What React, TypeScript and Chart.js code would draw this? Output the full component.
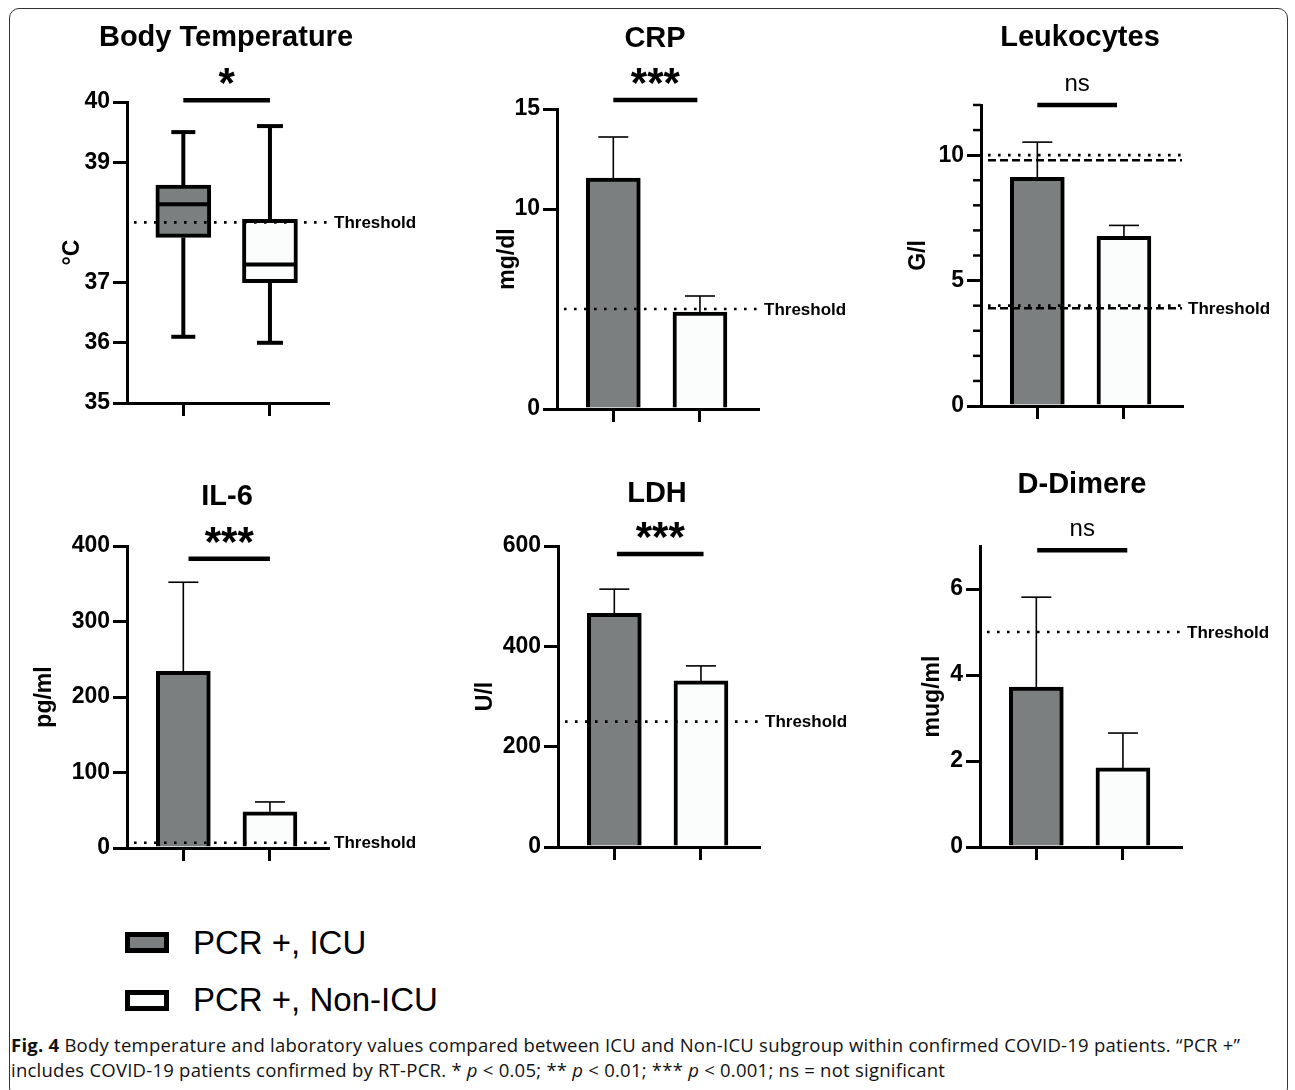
import React, { useEffect, useRef } from 'react';
import { Chart, registerables } from 'chart.js';

Chart.register(...registerables);

// ---------------- data ----------------
const GROUPS = ['PCR +, ICU', 'PCR +, Non-ICU'];
const GROUP_FILL = ['#7b7f7f', '#fbfdfd'];
const GROUP_X = [0, 1];

// Body temperature (box plot)
const TEMP_MIN = [36.1, 36.0];
const TEMP_Q1 = [37.75, 37.0];
const TEMP_MEDIAN = [38.3, 37.3];
const TEMP_Q3 = [38.62, 38.05];
const TEMP_MAX = [39.5, 39.6];
const TEMP_TICKS = [35, 36, 37, 39, 40];
const TEMP_THRESHOLDS = [38];

// CRP
const CRP_MEAN = [11.55, 4.85];
const CRP_UPPER = [13.6, 5.65];
const CRP_TICKS = [0, 10, 15];
const CRP_THRESHOLDS = [5];

// Leukocytes
const LEUK_MEAN = [9.12, 6.76];
const LEUK_UPPER = [10.52, 7.2];
const LEUK_TICKS = [0, 5, 10];
const LEUK_MINOR_TICKS = [1, 2, 3, 4, 6, 7, 8, 9, 11, 12];
const LEUK_THRESHOLDS = [10, 9.8, 4.0, 3.9];

// IL-6
const IL6_MEAN = [234, 48];
const IL6_UPPER = [352, 61];
const IL6_TICKS = [0, 100, 200, 300, 400];
const IL6_THRESHOLDS = [7];

// LDH
const LDH_MEAN = [466, 331];
const LDH_UPPER = [514, 361];
const LDH_TICKS = [0, 200, 400, 600];
const LDH_THRESHOLDS = [250];

// D-Dimere
const DDIM_MEAN = [3.72, 1.84];
const DDIM_UPPER = [5.81, 2.65];
const DDIM_TICKS = [0, 2, 4, 6];
const DDIM_THRESHOLDS = [5];

// significance annotations
const SIG_LABELS = ['*', '***', 'ns', '***', '***', 'ns'];
const SIG_LEVELS = [40.03, 15.45, 12.0, 383, 584, 6.9];

// ---------------- layout ----------------
const FONT = '"Liberation Sans", Arial, Helvetica, sans-serif';
const L = 100; // room left of plot area
const T = 95; // room above plot area
const R = 110; // room right of plot area
const B = 30; // room below plot area
const W = 201; // plot area width
const X_MIN = -0.65;
const X_MAX = 1.67;

interface PanelSpec {
  title: string;
  yTitle: string;
  kind: 'box' | 'bar';
  mean?: number[];
  upper?: number[];
  box?: { min: number[]; q1: number[]; med: number[]; q3: number[]; max: number[] };
  yMin: number;
  yMax: number;
  ticks: number[];
  minor?: number[];
  thresholds: number[];
  thresholdDash: ('dot' | 'dash')[];
  thresholdLabel: boolean[];
  sig: string;
  sigLevel: number;
  sigX: [number, number];
  areaLeft: number;
  areaTop: number;
  areaBottom: number;
  titleX: number;
  titleY: number;
  yTitleX: number;
}

const PANELS: PanelSpec[] = [
  {
    title: 'Body Temperature', yTitle: '°C', kind: 'box',
    box: { min: TEMP_MIN, q1: TEMP_Q1, med: TEMP_MEDIAN, q3: TEMP_Q3, max: TEMP_MAX },
    yMin: 35, yMax: 40, ticks: TEMP_TICKS,
    thresholds: TEMP_THRESHOLDS, thresholdDash: ['dot'], thresholdLabel: [true],
    sig: SIG_LABELS[0], sigLevel: SIG_LEVELS[0], sigX: [0, 1],
    areaLeft: 127, areaTop: 102, areaBottom: 403, titleX: 226, titleY: 38, yTitleX: 73,
  },
  {
    title: 'CRP', yTitle: 'mg/dl', kind: 'bar', mean: CRP_MEAN, upper: CRP_UPPER,
    yMin: 0, yMax: 15, ticks: CRP_TICKS,
    thresholds: CRP_THRESHOLDS, thresholdDash: ['dot'], thresholdLabel: [true],
    sig: SIG_LABELS[1], sigLevel: SIG_LEVELS[1], sigX: [0, 0.97],
    areaLeft: 557, areaTop: 109, areaBottom: 409, titleX: 655, titleY: 39, yTitleX: 508,
  },
  {
    title: 'Leukocytes', yTitle: 'G/l', kind: 'bar', mean: LEUK_MEAN, upper: LEUK_UPPER,
    yMin: 0, yMax: 12, ticks: LEUK_TICKS, minor: LEUK_MINOR_TICKS,
    thresholds: LEUK_THRESHOLDS, thresholdDash: ['dot', 'dash', 'dot', 'dash'],
    thresholdLabel: [false, false, false, true],
    sig: SIG_LABELS[2], sigLevel: SIG_LEVELS[2], sigX: [0, 0.92],
    areaLeft: 981, areaTop: 105, areaBottom: 406, titleX: 1080, titleY: 38, yTitleX: 919,
  },
  {
    title: 'IL-6', yTitle: 'pg/ml', kind: 'bar', mean: IL6_MEAN, upper: IL6_UPPER,
    yMin: 0, yMax: 400, ticks: IL6_TICKS,
    thresholds: IL6_THRESHOLDS, thresholdDash: ['dot'], thresholdLabel: [true],
    sig: SIG_LABELS[3], sigLevel: SIG_LEVELS[3], sigX: [0.06, 1],
    areaLeft: 127, areaTop: 546, areaBottom: 848, titleX: 227, titleY: 497, yTitleX: 45,
  },
  {
    title: 'LDH', yTitle: 'U/l', kind: 'bar', mean: LDH_MEAN, upper: LDH_UPPER,
    yMin: 0, yMax: 600, ticks: LDH_TICKS,
    thresholds: LDH_THRESHOLDS, thresholdDash: ['dot'], thresholdLabel: [true],
    sig: SIG_LABELS[4], sigLevel: SIG_LEVELS[4], sigX: [0.03, 1.03],
    areaLeft: 558, areaTop: 546, areaBottom: 847, titleX: 657, titleY: 494, yTitleX: 486,
  },
  {
    title: 'D-Dimere', yTitle: 'mug/ml', kind: 'bar', mean: DDIM_MEAN, upper: DDIM_UPPER,
    yMin: 0, yMax: 7, ticks: DDIM_TICKS,
    thresholds: DDIM_THRESHOLDS, thresholdDash: ['dot'], thresholdLabel: [true],
    sig: SIG_LABELS[5], sigLevel: SIG_LEVELS[5], sigX: [0.01, 1.05],
    areaLeft: 980, areaTop: 546, areaBottom: 847, titleX: 1082, titleY: 485, yTitleX: 933,
  },
];

function line(ctx: CanvasRenderingContext2D, x1: number, y1: number, x2: number, y2: number) {
  ctx.beginPath();
  ctx.moveTo(x1, y1);
  ctx.lineTo(x2, y2);
  ctx.stroke();
}

const annotPlugin = {
  id: 'annot',
  afterDatasetsDraw(chart: any, _args: any, opts: any) {
    const spec: PanelSpec = opts.spec;
    if (!spec) return;
    const ctx: CanvasRenderingContext2D = chart.ctx;
    const xs = chart.scales.x;
    const ys = chart.scales.y;
    const area = chart.chartArea;
    ctx.save();
    ctx.strokeStyle = '#000';
    ctx.lineCap = 'butt';
    GROUP_X.forEach((gx, i) => {
      const cx = xs.getPixelForValue(gx);
      if (spec.kind === 'box' && spec.box) {
        const b = spec.box;
        ctx.lineWidth = 4;
        const half = 27.5;
        const yMax = ys.getPixelForValue(b.max[i]);
        const yMin = ys.getPixelForValue(b.min[i]);
        line(ctx, cx, ys.getPixelForValue(b.q3[i]), cx, yMax);
        line(ctx, cx, ys.getPixelForValue(b.q1[i]), cx, yMin);
        const cap = i === 0 ? 12 : 13;
        line(ctx, cx - cap, yMax, cx + cap, yMax);
        line(ctx, cx - cap, yMin, cx + cap, yMin);
        const yMed = ys.getPixelForValue(b.med[i]);
        line(ctx, cx - half + 2, yMed, cx + half - 2, yMed);
      } else if (spec.mean && spec.upper) {
        ctx.lineWidth = 1.6;
        const yTop = ys.getPixelForValue(spec.upper[i]);
        line(ctx, cx, ys.getPixelForValue(spec.mean[i]), cx, yTop);
        line(ctx, cx - 15, yTop, cx + 15, yTop);
      }
    });
    // thresholds
    spec.thresholds.forEach((v, k) => {
      const y = ys.getPixelForValue(v);
      ctx.lineWidth = 2.6;
      if (spec.thresholdDash[k] === 'dot') ctx.setLineDash([2.6, 7.4]);
      else ctx.setLineDash([8, 4]);
      line(ctx, area.left + 7, y, area.right, y);
    });
    ctx.setLineDash([]);
    ctx.restore();
  },
  afterDraw(chart: any, _args: any, opts: any) {
    const spec: PanelSpec = opts.spec;
    if (!spec) return;
    const ctx: CanvasRenderingContext2D = chart.ctx;
    const xs = chart.scales.x;
    const ys = chart.scales.y;
    const area = chart.chartArea;
    const px = (pageX: number) => pageX - spec.areaLeft + area.left;
    const py = (pageY: number) => pageY - spec.areaTop + area.top;
    ctx.save();
    ctx.fillStyle = '#000';
    ctx.strokeStyle = '#000';
    // title
    ctx.font = `bold 29px ${FONT}`;
    ctx.textAlign = 'center';
    ctx.textBaseline = 'middle';
    ctx.fillText(spec.title, px(spec.titleX), py(spec.titleY));
    // y title
    ctx.save();
    ctx.translate(px(spec.yTitleX), (area.top + area.bottom) / 2);
    ctx.rotate(-Math.PI / 2);
    ctx.font = `bold 23px ${FONT}`;
    ctx.textAlign = 'center';
    ctx.textBaseline = 'middle';
    ctx.fillText(spec.yTitle, 0, 0);
    ctx.restore();
    // significance bar
    const sy = ys.getPixelForValue(spec.sigLevel);
    ctx.lineWidth = 4.5;
    line(ctx, xs.getPixelForValue(spec.sigX[0]), sy, xs.getPixelForValue(spec.sigX[1]), sy);
    const sx = (xs.getPixelForValue(spec.sigX[0]) + xs.getPixelForValue(spec.sigX[1])) / 2;
    ctx.textAlign = 'center';
    ctx.textBaseline = 'alphabetic';
    if (spec.sig === 'ns') {
      ctx.font = `24px ${FONT}`;
      ctx.fillText(spec.sig, sx, sy - 14);
    } else {
      ctx.font = `bold 42px ${FONT}`;
      ctx.fillText(spec.sig, sx, sy - 3);
    }
    // threshold labels
    ctx.font = `bold 17px ${FONT}`;
    ctx.textAlign = 'left';
    ctx.textBaseline = 'middle';
    spec.thresholds.forEach((v, k) => {
      if (spec.thresholdLabel[k]) ctx.fillText('Threshold', area.right + 6, ys.getPixelForValue(v) + 1);
    });
    // minor ticks
    if (spec.minor) {
      ctx.lineWidth = 2.5;
      spec.minor.forEach((v) => {
        const y = ys.getPixelForValue(v);
        line(ctx, area.left - 8, y, area.left, y);
      });
    }
    ctx.restore();
  },
};

function Panel({ spec }: { spec: PanelSpec }) {
  const ref = useRef<HTMLCanvasElement>(null);
  const H = spec.areaBottom - spec.areaTop;
  const width = L + W + R;
  const height = T + H + B;
  useEffect(() => {
    const data =
      spec.kind === 'box' && spec.box
        ? GROUP_X.map((gx, i) => ({ x: gx, y: [spec.box!.q1[i], spec.box!.q3[i]] }))
        : GROUP_X.map((gx, i) => ({ x: gx, y: spec.mean![i] }));
    const chart = new Chart(ref.current as HTMLCanvasElement, {
      type: 'bar',
      data: {
        datasets: [
          {
            label: spec.title,
            data: data as any,
            backgroundColor: GROUP_FILL,
            borderColor: '#000',
            borderWidth: 4,
            borderSkipped: spec.kind === 'box' ? false : 'start',
            barThickness: spec.kind === 'box' ? 55 : 54,
          } as any,
        ],
      },
      options: {
        animation: false,
        responsive: false,
        maintainAspectRatio: false,
        layout: { padding: { left: 0, top: T, right: R, bottom: 0 } },
        plugins: {
          legend: { display: false },
          tooltip: { enabled: false },
          annot: { spec },
        } as any,
        scales: {
          x: {
            type: 'linear',
            min: X_MIN,
            max: X_MAX,
            offset: false,
            afterBuildTicks: (s: any) => {
              s.ticks = GROUP_X.map((v) => ({ value: v }));
            },
            afterFit: (s: any) => {
              s.height = B;
            },
            ticks: { display: false },
            grid: {
              display: true,
              offset: false,
              drawOnChartArea: false,
              drawTicks: true,
              tickLength: 13,
              lineWidth: 3,
              color: '#000',
            },
            border: { display: true, width: 3, color: '#000' },
          },
          y: {
            type: 'linear',
            min: spec.yMin,
            max: spec.yMax,
            afterBuildTicks: (s: any) => {
              s.ticks = spec.ticks.map((v) => ({ value: v }));
            },
            afterFit: (s: any) => {
              s.width = L;
            },
            ticks: { color: '#000', padding: 3, font: { family: FONT, size: 23, weight: 'bold' } },
            grid: { display: true, drawOnChartArea: false, drawTicks: true, tickLength: 14, lineWidth: 3, color: '#000' },
            border: { display: true, width: 3, color: '#000' },
          },
        },
      } as any,
      plugins: [annotPlugin as any],
    });
    return () => chart.destroy();
  }, []);
  return (
    <canvas
      ref={ref}
      width={width}
      height={height}
      style={{ position: 'absolute', left: spec.areaLeft - L, top: spec.areaTop - T, width, height }}
    />
  );
}

export default function App() {
  const legendText: React.CSSProperties = {
    position: 'absolute',
    left: 193,
    fontFamily: FONT,
    fontSize: 33,
    lineHeight: '38px',
    color: '#000',
    whiteSpace: 'nowrap',
  };
  const legendBox: React.CSSProperties = {
    position: 'absolute',
    left: 125,
    width: 44,
    height: 21,
    border: '5px solid #000',
    boxSizing: 'border-box',
  };
  const caption: React.CSSProperties = {
    position: 'absolute',
    left: 11,
    fontFamily: '"Open Sans", "Noto Sans", sans-serif',
    fontSize: 18.5,
    letterSpacing: '0.24px',
    lineHeight: '25px',
    color: '#111',
    whiteSpace: 'nowrap',
  };
  return (
    <div
      style={{
        position: 'absolute',
        left: 0,
        top: 0,
        width: 1295,
        height: 1090,
        overflow: 'hidden',
        background: '#fff',
      }}
    >
      <div
        style={{
          position: 'absolute',
          left: 9,
          top: 8,
          width: 1279,
          height: 1090,
          border: '1.5px solid #333',
          borderRadius: 10,
          boxSizing: 'border-box',
        }}
      />
      {PANELS.map((p) => (
        <Panel key={p.title} spec={p} />
      ))}
      <div style={{ ...legendBox, top: 932, background: GROUP_FILL[0] }} />
      <div style={{ ...legendText, top: 924 }}>{GROUPS[0]}</div>
      <div style={{ ...legendBox, top: 990, background: GROUP_FILL[1] }} />
      <div style={{ ...legendText, top: 981 }}>{GROUPS[1]}</div>
      <div style={{ ...caption, top: 1032 }}>
        <b>Fig. 4</b> Body temperature and laboratory values compared between ICU and Non-ICU subgroup within confirmed
        COVID-19 patients. “PCR +”
      </div>
      <div style={{ ...caption, top: 1057 }}>
        includes COVID-19 patients confirmed by RT-PCR. * <i>p</i> &lt; 0.05; ** <i>p</i> &lt; 0.01; *** <i>p</i> &lt;
        0.001; ns = not significant
      </div>
    </div>
  );
}
